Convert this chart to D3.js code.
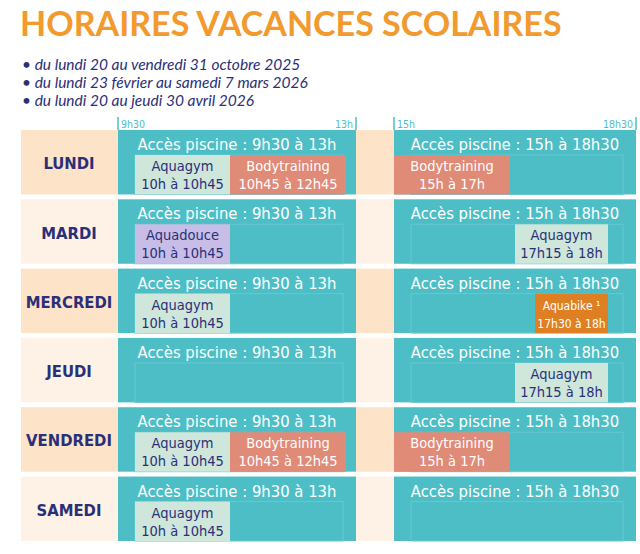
<!DOCTYPE html><html><head><meta charset="utf-8"><script src="https://cdn.jsdelivr.net/npm/d3@7"></script>
<style>body{margin:0;background:#fff}</style></head><body><svg id="c" width="640" height="554"></svg>
<script>
const title="HORAIRES VACANCES SCOLAIRES";
const periods=["du lundi 20 au vendredi 31 octobre 2025","du lundi 23 février au samedi 7 mars 2026","du lundi 20 au jeudi 30 avril 2026"];
const days=["LUNDI","MARDI","MERCREDI","JEUDI","VENDREDI","SAMEDI"];
const sessions=[{start:9.5,end:13,label:"Accès piscine : 9h30 à 13h"},{start:15,end:18.5,label:"Accès piscine : 15h à 18h30"}];
const ticks=[{t:9.5,l:"9h30",a:"start"},{t:13,l:"13h",a:"end"},{t:15,l:"15h",a:"start"},{t:18.5,l:"18h30",a:"end"}];
const activities=[
 {day:"LUNDI",name:"Aquagym",time:"10h à 10h45",s:10,e:10.75,type:"gym"},
 {day:"LUNDI",name:"Bodytraining",time:"10h45 à 12h45",s:10.75,e:12.75,type:"body"},
 {day:"LUNDI",name:"Bodytraining",time:"15h à 17h",s:15,e:17,type:"body"},
 {day:"MARDI",name:"Aquadouce",time:"10h à 10h45",s:10,e:10.75,type:"douce"},
 {day:"MARDI",name:"Aquagym",time:"17h15 à 18h",s:17.25,e:18,type:"gym"},
 {day:"MERCREDI",name:"Aquagym",time:"10h à 10h45",s:10,e:10.75,type:"gym"},
 {day:"MERCREDI",name:"Aquabike ¹",time:"17h30 à 18h",s:17.5,e:18,type:"bike"},
 {day:"JEUDI",name:"Aquagym",time:"17h15 à 18h",s:17.25,e:18,type:"gym"},
 {day:"VENDREDI",name:"Aquagym",time:"10h à 10h45",s:10,e:10.75,type:"gym"},
 {day:"VENDREDI",name:"Bodytraining",time:"10h45 à 12h45",s:10.75,e:12.75,type:"body"},
 {day:"VENDREDI",name:"Bodytraining",time:"15h à 17h",s:15,e:17,type:"body"},
 {day:"SAMEDI",name:"Aquagym",time:"10h à 10h45",s:10,e:10.75,type:"gym"}];
const fills={gym:"#cfe6da",body:"#e08a78",douce:"#c7bde6",bike:"#df7f24"};
const txt={gym:"#2a2f78",body:"#fff",douce:"#2a2f78",bike:"#fff"};
const x=d3.scaleLinear().domain([9.5,10,10.75,12.75,13,15,17,17.25,17.5,18,18.5]).range([118,135,230,346,356,394,510,515,535,608,636]);
const y=d3.scaleBand().domain(days).range([130,541]).paddingInner(0.07);
const svg=d3.select("#c"),F="'DejaVu Sans Condensed','DejaVu Sans',sans-serif";
svg.append("text").attr("x",20).attr("y",36).text(title).attr("font-family","Lato,sans-serif").attr("font-weight","bold").attr("font-size",34).attr("fill","#f29a2e");
periods.forEach((p,i)=>{const g=svg.append("text").attr("x",22).attr("y",70+i*18).attr("font-family","Lato,sans-serif").attr("font-style","italic").attr("font-size",15.5).attr("fill","#2a2f78");g.append("tspan").text("• ");g.append("tspan").text(p);});
ticks.forEach(t=>{svg.append("line").attr("x1",x(t.t)).attr("x2",x(t.t)).attr("y1",117).attr("y2",130).attr("stroke","#4dbec6").attr("stroke-width",1.5);
 svg.append("text").attr("x",x(t.t)+(t.a=="start"?3:-3)).attr("y",128).attr("text-anchor",t.a).text(t.l).attr("font-family",F).attr("font-size",10.5).attr("fill","#4dbec6");});
days.forEach((d,i)=>{const y0=y(d),h=y.bandwidth(),bg=i%2?"#fef2e6":"#fde3c8";
 svg.append("rect").attr("x",21).attr("y",y0).attr("width",97).attr("height",h).attr("fill",bg);
 svg.append("rect").attr("x",x(13)).attr("y",y0).attr("width",x(15)-x(13)).attr("height",h).attr("fill",bg);
 svg.append("text").attr("x",69).attr("y",y0+h/2+7).attr("text-anchor","middle").text(d).attr("font-family",F).attr("font-weight","bold").attr("font-size",16.5).attr("fill","#2a2f78");
 sessions.forEach(s=>{svg.append("rect").attr("x",x(s.start)).attr("y",y0).attr("width",x(s.end)-x(s.start)).attr("height",h).attr("fill","#4dbec6");
  svg.append("rect").attr("x",x(s.start)+17).attr("y",y0+25).attr("width",x(s.end)-x(s.start)-30).attr("height",h-25).attr("fill","none").attr("stroke","#66c8cf").attr("stroke-width",1);
  svg.append("text").attr("x",(x(s.start)+x(s.end))/2).attr("y",y0+20).attr("text-anchor","middle").text(s.label).attr("font-family",F).attr("font-size",16.5).attr("fill","#fff");});
 activities.filter(a=>a.day==d).forEach(a=>{const x0=x(a.s),w=x(a.e)-x0,cx=x0+w/2;
  svg.append("rect").attr("x",x0).attr("y",y0+25).attr("width",w).attr("height",h-25).attr("fill",fills[a.type]);
  const fs=a.type=="bike"?12:14.5;
  svg.append("text").attr("x",cx).attr("y",y0+41).attr("text-anchor","middle").text(a.name).attr("font-family",F).attr("font-size",fs).attr("fill",txt[a.type]);
  svg.append("text").attr("x",cx).attr("y",y0+59).attr("text-anchor","middle").text(a.time).attr("font-family",F).attr("font-size",fs).attr("fill",txt[a.type]);});
});
</script></body></html>
